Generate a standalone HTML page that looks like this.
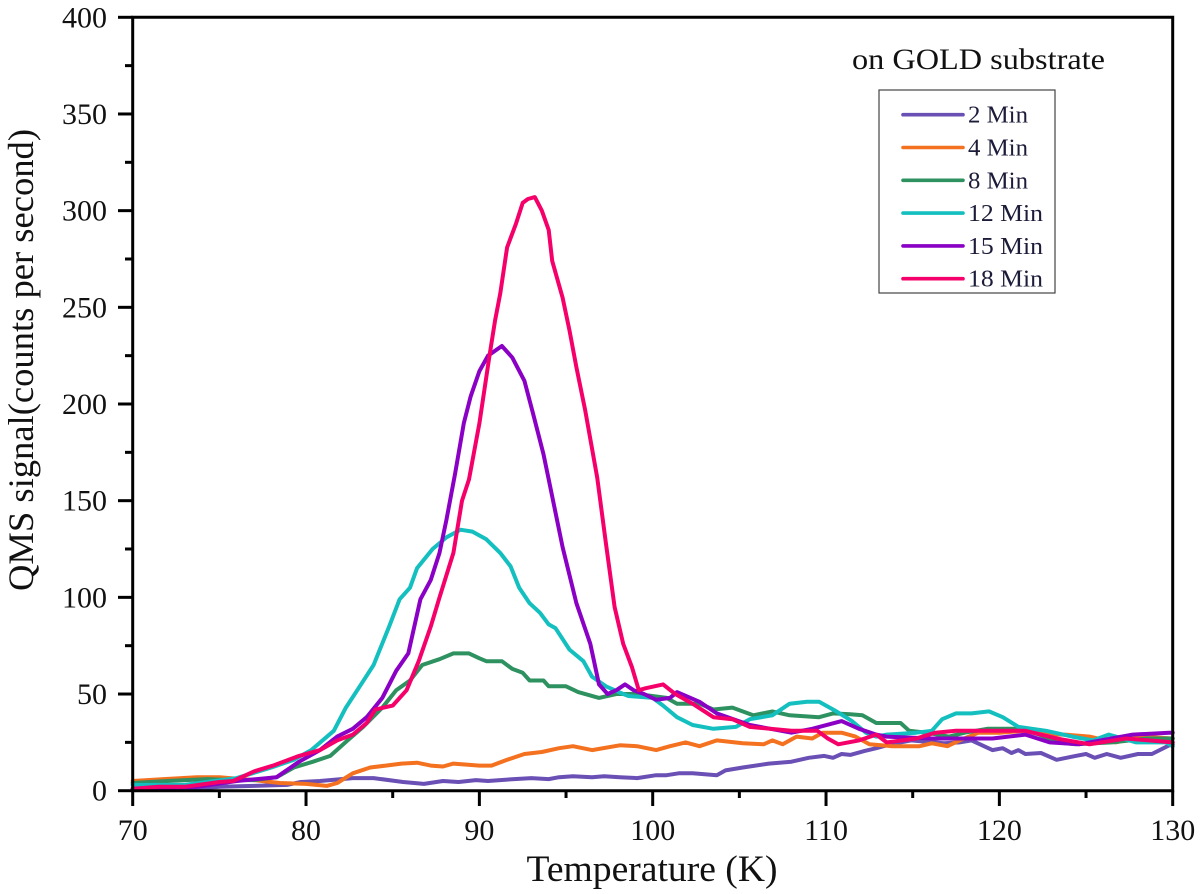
<!DOCTYPE html>
<html lang="en">
<head>
<meta charset="utf-8">
<title>QMS signal vs temperature on gold substrate</title>
<style>
html,body{margin:0;padding:0;background:#fff;width:1200px;height:894px;overflow:hidden}
svg{display:block;font-family:"Liberation Serif",serif}
</style>
</head>
<body>
<svg id="chart" xmlns="http://www.w3.org/2000/svg" width="1200" height="894" viewBox="0 0 1200 894">
  <g id="series-layer"></g>
  <g id="axes-layer"></g>
  <text x="652" y="881" text-anchor="middle" font-size="37" textLength="251" lengthAdjust="spacingAndGlyphs" fill="#111">Temperature (K)</text>
  <text transform="translate(33,360) rotate(-90)" text-anchor="middle" font-size="36" textLength="462" lengthAdjust="spacingAndGlyphs" fill="#111">QMS signal(counts per second)</text>
  <text x="852" y="69" font-size="30" textLength="253" lengthAdjust="spacingAndGlyphs" fill="#111">on GOLD substrate</text>
  <rect x="879" y="90" width="176" height="203" fill="#fff" stroke="#444" stroke-width="1.2"/>
  <g id="legend-layer"></g>
</svg>
<script>
const xTickLabels = [70, 80, 90, 100, 110, 120, 130];
const yTickLabels = [0, 50, 100, 150, 200, 250, 300, 350, 400];
const seriesNames = ["2 Min", "4 Min", "8 Min", "12 Min", "15 Min", "18 Min"];

const temps2 = [70,72,73.7,75,77,78.9,79.7,80.8,82.7,83.9,85.6,86.8,87.9,88.8,89.8,90.5,91.2,92,93,94,94.6,95.4,96.5,97.2,98.1,99.1,100.2,100.8,101.5,102.3,103.7,104.2,105.2,106.7,108,109,109.9,110.4,110.9,111.4,112.2,112.9,113.5,114.3,114.9,116.8,117.7,118.4,119.6,120.2,120.7,121.1,121.5,122.4,123.3,124.4,125,125.5,126.2,127,128,128.8,129.8,130];
const vals2 = [1,1,1,2,2.5,3,4.5,5,6.5,6.5,4.5,3.5,5,4.5,5.5,5,5.5,6,6.5,6,7,7.5,7,7.5,7,6.5,8,8,9,9,8,10.5,12,14,15,17,18,17,19,18.5,20.5,22,23.5,25,26,24.5,25,26,21,22,19.5,21,19,19.5,16,18,19,17,19,17,19,19,23.5,24];
const vals4Temps = [70,71.8,73.7,75,77,78.5,80,81.2,81.8,82.7,83.7,84.6,85.5,86.4,87.2,87.9,88.5,90,90.7,91.6,92.6,93.6,94.6,95.4,96.5,98.1,99.1,100.2,101,101.9,102.7,103.7,105.2,106.4,106.9,107.5,108.3,109.2,109.8,110.9,111.7,112.5,113.8,115.4,116.1,117,117.7,118.8,120,121.5,122.7,123.8,125.2,126.7,128.2,130];
const vals4 = [5,6,7,7,5.5,4,3.5,2.5,4,9,12,13,14,14.5,13,12.5,14,13,13,16,19,20,22,23,21,23.5,23,21,23,25,23,26,24.5,24,26,24,28,27,30,30,28,24,23,23,24.5,23,26,30,30,31,29,29,28,25,28,27];
const temps8 = [70,72,74.3,75.8,77,78.3,79.3,80.4,81.4,82.4,83.3,84.4,85.2,86,86.7,87.7,88.5,89.4,90,90.4,91.3,91.9,92.5,92.9,93.7,94,95,95.7,96.9,97.9,98.3,99.1,100.8,101.4,102.7,103.5,104.6,105.8,106.9,107.9,109.6,110.4,111.4,112.1,112.9,113.3,114.3,114.8,115.8,117.1,118,119.3,121.2,122.3,123.4,124.4,126.5,128.5,130];
const vals8 = [4,5,6,5.5,5.5,7,12,15,18,26,33,43,52,57,65,68,71,71,68.5,67,67,63,61,57,57,54,54,51,48,50,50,50,48,45,45,42,43,39,41,39,38,40,39.5,39,35,35,35,31,30,28,30,32,32,29,25,24,25,27,27];
const temps12 = [70,73,76,78,79.3,80.3,81.6,82.3,83.1,83.9,84.8,85.4,86,86.4,87.3,88.1,88.9,89.6,90.4,91.2,91.8,92.3,92.9,93.5,94,94.4,95.2,96,96.5,97.3,98.3,98.6,100,100.6,101.4,102.3,103.5,104.8,105.6,106.9,107.9,108.9,109.6,110.6,111.5,112.3,112.9,113.5,115.2,116.1,116.7,117.5,118.4,119.4,120.2,121.1,122.7,124.2,125.4,126.3,127.9,129.6,130];
const vals12 = [3,3,6.5,12,16,21,31,43,54,65,85,99,105,115,125,131,135,134,130,123,116,105,97,92,86,84,73,67,59,54,50,49,48,44,38,34,32,33,37,39,45,46,46,41,36,30,28,29,30,31,37,40,40,41,38,33,31,28,26,29,25,25,23];
const temps15 = [70,72,73.7,76,78.3,79.6,80.8,81.8,82.7,83.5,84.4,85.2,85.9,86.6,87.2,87.7,88.1,88.6,89.1,89.5,90,90.5,91.3,91.9,92.6,93.1,93.7,94,94.8,95.6,96.4,96.9,97.4,97.9,98.4,98.9,99.5,100.2,101,101.4,102.7,103.7,105.6,108,109.2,110.9,111.9,112.9,113.5,116.1,119.6,121.5,122.9,124.6,127.7,129.8,130];
const vals15 = [1,1.5,2,5,7,15,21,28,32,38,48,62,71,99,109,123,140,164,190,204,217,225,230,224,212,195,174,161,126,97,76,55,50,52,55,52,50,47,48,51,46,40,34,30,32,36,32,29,28,27,27,29,25,24,29,30,30];
const temps18 = [70,71.5,73,75,75.8,77,78.1,79.6,80.8,81.8,82.7,83.5,84,85,85.8,86.5,87.2,87.7,88.5,89,89.4,90,90.6,90.9,91.2,91.6,92.1,92.5,92.8,93.2,93.6,94,94.2,94.8,95.2,95.6,96.1,96.8,97.3,97.8,98.3,98.8,99.2,99.6,100.6,101.3,102.3,103.5,104.6,105.6,108,109.5,110.1,110.7,111.9,112.9,113.5,115.2,116.3,117.5,121.5,123.3,125.2,127.3,130];
const vals18 = [1,2,2,4.5,5,10,13,18,21,26,29,35,42,44,52,67,85,100,123,150,161,190,226,243,257,281,293,304,306,307,300,290,274,255,238,219,197,162,128,95,76,64,52,53,55,50,45,38,37,33,31,31,27,24,26,29,25,27,30,31,31,27,24,27,25];

const seriesTemps = [temps2, vals4Temps, temps8, temps12, temps15, temps18];
const seriesVals = [vals2, vals4, vals8, vals12, vals15, vals18];
const seriesColors = ["#6a4fb5", "#f4711f", "#2e9160", "#14bfbf", "#8a00c4", "#f5006a"];

const NS = "http://www.w3.org/2000/svg";
const plot = {left: 132.7, right: 1172.7, top: 17.3, bottom: 790.7};
const xMin = xTickLabels[0], xMax = xTickLabels[xTickLabels.length - 1];
const yMin = yTickLabels[0], yMax = yTickLabels[yTickLabels.length - 1];
function xScale(t) { return plot.left + (t - xMin) / (xMax - xMin) * (plot.right - plot.left); }
function yScale(v) { return plot.bottom - (v - yMin) / (yMax - yMin) * (plot.bottom - plot.top); }

function svgEl(tag, attrs) {
  const el = document.createElementNS(NS, tag);
  for (const k in attrs) el.setAttribute(k, attrs[k]);
  return el;
}

const seriesLayer = document.getElementById("series-layer");
seriesNames.forEach(function (name, i) {
  const pts = seriesTemps[i].map(function (t, j) { return xScale(t).toFixed(1) + "," + yScale(seriesVals[i][j]).toFixed(1); });
  const line = svgEl("polyline", {points: pts.join(" "), fill: "none", stroke: seriesColors[i], "stroke-width": 4, "stroke-linejoin": "round", "stroke-linecap": "round"});
  
  
  seriesLayer.appendChild(line);
});

const axes = document.getElementById("axes-layer");
const frame = svgEl("path", {d: "M" + plot.left + " " + plot.bottom + "V" + plot.top + "H" + plot.right + "V" + plot.bottom + "Z", fill: "none", stroke: "#000", "stroke-width": 3});


axes.appendChild(frame);

function addTick(x1, y1, x2, y2, name) {
  const tick = svgEl("line", {x1: x1, y1: y1, x2: x2, y2: y2, stroke: "#000", "stroke-width": 3});
  
  
  axes.appendChild(tick);
}

xTickLabels.forEach(function (t, i) {
  const x = xScale(t);
  addTick(x, plot.bottom, x, 806, 'x-axis-tick');
  if (i < xTickLabels.length - 1) {
    const xm = xScale((t + xTickLabels[i + 1]) / 2);
    addTick(xm, plot.bottom, xm, 798, 'x-axis-minor-tick');
  }
  const label = svgEl("text", {x: x, y: 840, "text-anchor": "middle", "font-size": 30, fill: "#111"});
  
  
  label.textContent = t;
  axes.appendChild(label);
});

yTickLabels.forEach(function (v, i) {
  const y = yScale(v);
  addTick(118, y, plot.left, y, 'y-axis-tick');
  if (i < yTickLabels.length - 1) {
    const ym = yScale((v + yTickLabels[i + 1]) / 2);
    addTick(125, ym, plot.left, ym, 'y-axis-minor-tick');
  }
  const label = svgEl("text", {x: 107, y: y + 10, "text-anchor": "end", "font-size": 30, fill: "#111"});
  
  
  label.textContent = v;
  axes.appendChild(label);
});

const legend = document.getElementById("legend-layer");
seriesNames.forEach(function (name, i) {
  const y = 114.7 + i * 32.8;
  const handle = svgEl("line", {x1: 903, y1: y, x2: 963, y2: y, stroke: seriesColors[i], "stroke-width": 3.6, "stroke-linecap": "round"});
  
  
  legend.appendChild(handle);
  const label = svgEl("text", {x: 968, y: y + 8, "font-size": 24, "lengthAdjust": "spacingAndGlyphs", fill: "#1c1c3a"});
  label.setAttribute('textLength', name.length > 5 ? 75 : 60);
  
  
  label.textContent = name;
  legend.appendChild(label);
});
</script>
</body>
</html>
